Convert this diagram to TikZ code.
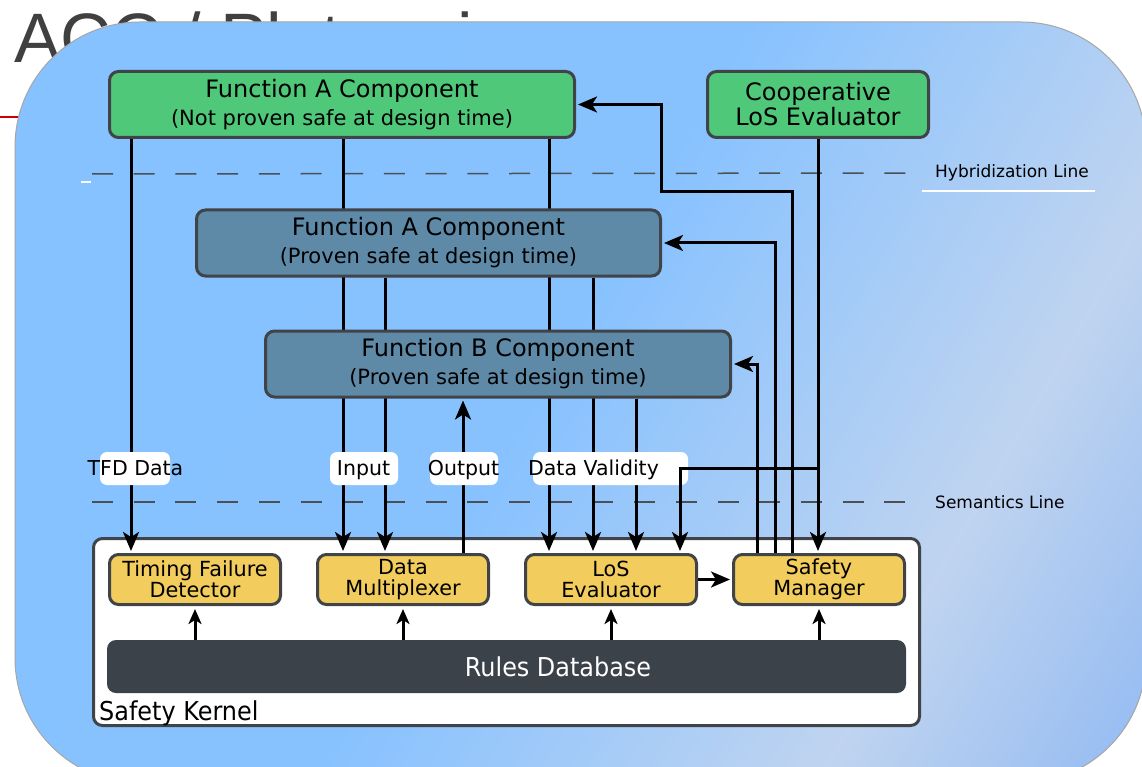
\documentclass[tikz,border=0pt]{standalone}
\usepackage{fontspec}
\setmainfont{DejaVu Sans}
\newfontfamily\narrowfont[FakeStretch=0.92]{DejaVu Sans}
\newfontfamily\slidefont{Liberation Sans}
\usetikzlibrary{arrows.meta,positioning}
\definecolor{edgegray}{RGB}{64,68,72}
\definecolor{unsafegreen}{RGB}{80,200,122}
\definecolor{provenblue}{RGB}{94,138,168}
\definecolor{kernelyellow}{RGB}{242,204,92}
\definecolor{rulesgray}{RGB}{60,66,74}
\definecolor{dashgray}{RGB}{75,80,85}
\pgfdeclarehorizontalshading{slideshade}{100bp}{rgb(0bp)=(0.52,0.76,1); rgb(48bp)=(0.53,0.76,1); rgb(70bp)=(0.75,0.83,0.94); rgb(100bp)=(0.38,0.62,0.96)}
\pgfdeclarelayer{background}
\pgfdeclarelayer{wires}
\pgfsetlayers{background,wires,main}
\newcommand{\headsize}{\fontsize{24}{28}\selectfont}
\newcommand{\notesize}{\fontsize{21}{25}\selectfont}
\tikzstyle{unsafe} = [draw=edgegray,line width=3pt,fill=unsafegreen,rounded corners=9pt,minimum height=66pt,inner sep=0pt,align=center,font=\notesize]
\tikzstyle{proven} = [unsafe,fill=provenblue]
\tikzstyle{kernelpart} = [draw=edgegray,line width=3pt,fill=kernelyellow,rounded corners=9pt,minimum width=171pt,minimum height=50pt,inner sep=0pt,align=center,font=\fontsize{20.8}{21}\selectfont]
\tikzstyle{tag} = [fill=white,rounded corners=7pt,minimum height=33pt,inner sep=0pt]
\tikzstyle{tagtext} = [inner sep=0pt,anchor=base,font=\fontsize{20.5}{24}\selectfont]
\tikzstyle{sideline} = [inner sep=0pt,anchor=west,font=\fontsize{17}{20}\selectfont]
\tikzstyle{sepline} = [dashgray,line width=1.5pt,dash pattern=on 21pt off 20.7pt,shorten >=12pt]
\tikzstyle{arrow} = [line width=3pt,->,>={Stealth[length=19pt,width=16pt,inset=5pt]},shorten >=2pt,draw=black]
\tikzstyle{uparrow} = [line width=3pt,->,>={Stealth[length=15pt,width=13pt,inset=4pt]},shorten >=3pt,draw=black]
\begin{document}
\begin{tikzpicture}[x=1pt,y=-1pt]
\useasboundingbox (0,0) rectangle (1142,767);
\clip (0,0) rectangle (1142,767);

% slide behind the diagram
\begin{pgfonlayer}{background}
\fill[white] (0,0) rectangle (1142,767);
\node[anchor=base west,inner sep=0pt,text=black!75,font=\slidefont\fontsize{70}{84}\selectfont] (title) at (14,63) {ACC / Platooning};
\draw[red!80!black,line width=1.5pt] (0,117) -- (24,117);
\path[draw=black!35,line width=1pt,shading=slideshade,shading angle=-30,rounded corners=125pt] (15,22) rectangle (1146,783);

\node[sideline] (hybrid) at (935,173) {Hybridization Line};
\draw[sepline] (92,174) -- (hybrid.west);
\draw[white,line width=2pt] (922,191) -- (1095,191);
\draw[white,line width=2pt] (81,182) -- (91,182);
\node[sideline] (semantic) at (935,502) {Semantics Line};
\draw[sepline] (92,502) -- (semantic.west);

\node[draw=edgegray,line width=3pt,fill=white,rounded corners=9pt,minimum width=826pt,minimum height=187pt,inner sep=0pt] (kernel) at (506.5,632) {};
\node[anchor=base west,inner sep=0pt,font=\narrowfont\fontsize{26}{30}\selectfont] (kernellabel) at (99,720) {Safety Kernel};
\end{pgfonlayer}

% components
\node[unsafe,minimum width=465pt] (greenA) at (342,104.5) {{\headsize Function A Component}\\[3pt](Not proven safe at design time)};
\node[unsafe,minimum width=221pt,font=\fontsize{24}{25}\selectfont] (clos) at (818,104.5) {Cooperative\\LoS Evaluator};
\node[proven,minimum width=464pt] (blueA) at (428.5,243) {{\headsize Function A Component}\\[3pt](Proven safe at design time)};
\node[proven,minimum width=465pt] (blueB) at (498,364) {{\headsize Function B Component}\\[3pt](Proven safe at design time)};

% safety kernel
\node[kernelpart] (tfd) at (195,579.5) {Timing Failure\\Detector};
\node[kernelpart] (dmux) [right=34pt of tfd] {Data\\Multiplexer};
\node[kernelpart] (loseval) [right=34pt of dmux] {LoS\\Evaluator};
\node[kernelpart] (safety) [right=34pt of loseval] {Safety\\Manager};
\node[fill=rulesgray,rounded corners=9pt,minimum width=799pt,minimum height=53pt,inner sep=0pt] (rules) at (506.5,666.5) {};
\node[inner sep=0pt,text=white,font=\narrowfont\fontsize{26}{30}\selectfont] (rulestext) at (558,666.5) {Rules Database};

% labels on the wires
\node[tag,minimum width=70pt] (tfdtag) at (135,468.5) {};
\node[tagtext] (tfdtext) at (135.5,475) {TFD Data};
\node[tag,minimum width=68pt] (intag) at (364,468.5) {};
\node[tagtext] (intext) at (363.5,475) {Input};
\node[tag,minimum width=68pt] (outtag) at (464,468.5) {};
\node[tagtext] (outtext) at (463.5,475) {Output};
\node[tag,minimum width=155pt] (validtag) at (610.5,468.5) {};
\node[tagtext] (validtext) at (593.5,475) {Data Validity};

\coordinate (tfdcol) at (131,0);
\coordinate (incolA) at (343,0);
\coordinate (incolB) at (385,0);
\coordinate (outcol) at (463,0);
\coordinate (validA) at (549,0);
\coordinate (validB) at (593,0);
\coordinate (validC) at (636,0);
\coordinate (validD) at (680,0);
\coordinate (mgrA) at (757,0);
\coordinate (mgrB) at (775,0);
\coordinate (mgrC) at (792,0);
\coordinate (mgrbend) at (661,192);

\begin{pgfonlayer}{wires}
\draw[arrow] (greenA.south -| tfdcol) -- (tfd.north -| tfdcol);
\draw[arrow] (greenA.south -| incolA) -- (dmux.north -| incolA);
\draw[arrow] (blueA.south -| incolB) -- (dmux.north -| incolB);
\draw[arrow] (dmux.north -| outcol) -- (blueB.south -| outcol);
\draw[arrow] (greenA.south -| validA) -- (loseval.north -| validA);
\draw[arrow] (blueA.south -| validB) -- (loseval.north -| validB);
\draw[arrow] (blueB.south -| validC) -- (loseval.north -| validC);
\draw[arrow] (clos.south) -- (clos.south |- safety.north);
\draw[arrow] (safety.north -| mgrA) |- (blueB.east);
\draw[arrow] (safety.north -| mgrB) |- (blueA.east);
\draw[arrow] (safety.north -| mgrC) |- (mgrbend) |- (greenA.east);
\draw[arrow] (loseval) -- (safety);
\foreach \part in {tfd,dmux,loseval,safety}
  \draw[uparrow] (rules.north -| \part) -- (\part.south);
\end{pgfonlayer}
\draw[arrow] (clos.south |- validtag) -| (loseval.north -| validD);
\end{tikzpicture}
\end{document}
